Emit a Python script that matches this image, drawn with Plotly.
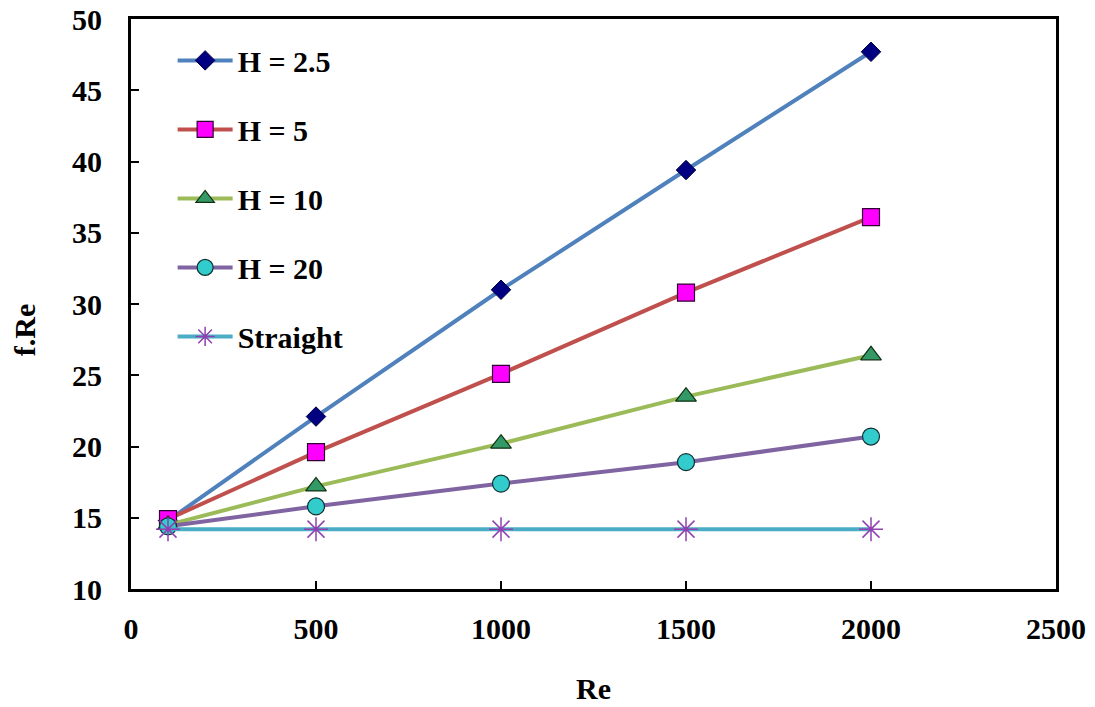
import plotly.graph_objects as go

# Reynolds numbers sampled
re_values = [100, 500, 1000, 1500, 2000]

# f.Re for each channel configuration
h_2_5 = [14.8, 22.1, 31.0, 39.4, 47.7]
h_5 = [14.9, 19.6, 25.1, 30.8, 36.1]
h_10 = [14.5, 17.2, 20.2, 23.5, 26.4]
h_20 = [14.4, 15.8, 17.4, 18.9, 20.7]
straight = [14.2, 14.2, 14.2, 14.2, 14.2]

series_names = ["H = 2.5", "H = 5", "H = 10", "H = 20", "Straight"]

FONT = "Liberation Serif"
FS = 30

fig = go.Figure()

styles = [
    (h_2_5, "#4F81BD", dict(symbol="diamond", size=15, color="#000080",
                           line=dict(color="#000040", width=1))),
    (h_5, "#C0504D", dict(symbol="square", size=17, color="#FF00FF",
                         line=dict(color="#300030", width=1.2))),
    (h_10, "#9BBB59", dict(symbol="triangle-up", size=18, color="#339966",
                          line=dict(color="#103010", width=1.2))),
    (h_20, "#8064A2", dict(symbol="circle", size=17, color="#33CCCC",
                          line=dict(color="#103030", width=1.2))),
    (straight, "#4BACC6", dict(symbol="asterisk-open", size=20, color="#9040B0",
                              line=dict(color="#9040B0", width=1.5))),
]

for name, (vals, lc, mk) in zip(series_names, styles):
    fig.add_trace(go.Scatter(
        x=re_values, y=vals, name=name, legendgroup=name,
        mode="lines+markers",
        line=dict(color=lc, width=4),
        marker=mk,
    ))

axis_common = dict(
    showline=True, linecolor="black", linewidth=3, mirror=True,
    ticks="inside", ticklen=8, tickwidth=2, tickcolor="black",
    showgrid=False, zeroline=False, automargin=False,
    tickfont=dict(family=FONT, size=FS, color="black", weight="bold"),
)

fig.update_xaxes(
    range=[0, 2500], tickvals=[0, 500, 1000, 1500, 2000, 2500],
    ticklabelstandoff=11,
    title=dict(text="<b>Re</b>", font=dict(family=FONT, size=FS, color="black"),
               standoff=34),
    **axis_common,
)
fig.update_yaxes(
    range=[10, 50], tickvals=[10, 15, 20, 25, 30, 35, 40, 45, 50],
    ticklabelstandoff=20,
    **axis_common,
)

# y-axis title, set slightly below the middle of the axis
fig.add_annotation(
    text="<b>f.Re</b>", textangle=-90, showarrow=False,
    xref="paper", yref="paper", x=-0.1157, y=0.454,
    xanchor="center", yanchor="middle",
    font=dict(family=FONT, size=FS, color="black"),
)

fig.update_layout(
    width=1095, height=707,
    margin=dict(l=131, r=39, t=19, b=118),
    paper_bgcolor="white", plot_bgcolor="white",
    font=dict(family=FONT, color="black"),
    legend=dict(
        x=0.045, y=0.973, xanchor="left", yanchor="top",
        bgcolor="rgba(0,0,0,0)",
        font=dict(family=FONT, size=FS, color="black", weight="bold"),
        tracegroupgap=27, itemwidth=55,
    ),
)

fig.write_html("out.html")
